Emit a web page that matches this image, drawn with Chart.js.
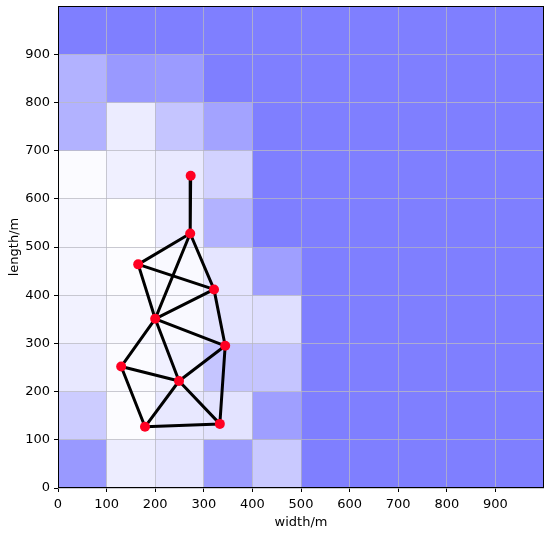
<!DOCTYPE html>
<html>
<head>
<meta charset="utf-8">
<script src="https://cdn.jsdelivr.net/npm/chart.js@4"></script>
<style>
  html, body { margin: 0; padding: 0; background: #fff; }
  #wrap { width: 550px; height: 533px; }
</style>
</head>
<body>
<div id="wrap"><canvas id="grid-chart" width="550" height="533"></canvas></div>
<script>
// cell size in metres, grid starts at 0
const cellSize = 100;
const tickValues = [0, 100, 200, 300, 400, 500, 600, 700, 800, 900];

// shade of each cell (0 = white, 1 = full blue), row 0 is y 0-100
const shadeRows = [
  [0.80, 0.14, 0.20, 0.78, 0.42, 1, 1, 1, 1, 1],
  [0.40, 0.02, 0.18, 0.22, 0.75, 1, 1, 1, 1, 1],
  [0.18, 0.03, 0.12, 0.45, 0.45, 1, 1, 1, 1, 1],
  [0.10, 0.05, 0.05, 0.22, 0.25, 1, 1, 1, 1, 1],
  [0.08, 0.02, 0.05, 0.20, 0.75, 1, 1, 1, 1, 1],
  [0.07, 0.00, 0.15, 0.60, 1, 1, 1, 1, 1, 1],
  [0.03, 0.12, 0.17, 0.35, 1, 1, 1, 1, 1, 1],
  [0.60, 0.15, 0.45, 0.72, 1, 1, 1, 1, 1, 1],
  [0.60, 0.80, 0.78, 1, 1, 1, 1, 1, 1, 1],
  [1, 1, 1, 1, 1, 1, 1, 1, 1, 1]
];

// network nodes
const nodeX = [273, 272, 165, 321, 200, 344, 130, 249, 179, 333];
const nodeY = [648, 528, 464, 412, 351, 295, 252, 222, 127, 133];

// links between nodes (indices)
const links = [
  [0, 1], [1, 2], [1, 4], [1, 3], [2, 3], [2, 4], [3, 4], [3, 5], [4, 5],
  [4, 6], [4, 7], [5, 7], [5, 9], [6, 7], [6, 8], [7, 8], [7, 9], [8, 9]
];

const shadeColor = (v) => {
  const r = Math.round(255 - v * (255 - 127));
  return `rgb(${r},${r},255)`;
};

const linkPoints = [];
links.forEach(([a, b]) => {
  linkPoints.push({ x: nodeX[a], y: nodeY[a] });
  linkPoints.push({ x: nodeX[b], y: nodeY[b] });
  linkPoints.push({ x: null, y: null });
});

const heatmapPlugin = {
  id: "heatmap",
  beforeDraw(chart) {
    const { ctx, scales } = chart;
    const xs = scales.x, ys = scales.y;
    ctx.save();
    shadeRows.forEach((row, j) => {
      row.forEach((v, i) => {
        const x0 = xs.getPixelForValue(i * cellSize);
        const x1 = xs.getPixelForValue((i + 1) * cellSize);
        const y0 = ys.getPixelForValue((j + 1) * cellSize);
        const y1 = ys.getPixelForValue(j * cellSize);
        ctx.fillStyle = shadeColor(v);
        ctx.fillRect(x0, y0, x1 - x0, y1 - y0);
      });
    });
    ctx.restore();
  },
  afterDraw(chart) {
    const { ctx, chartArea } = chart;
    ctx.save();
    ctx.strokeStyle = "#000";
    ctx.lineWidth = 1;
    ctx.strokeRect(chartArea.left + 0.5, chartArea.top + 0.5,
      chartArea.right - chartArea.left - 1, chartArea.bottom - chartArea.top - 1);
    ctx.restore();
  }
};

const gridOpts = {
  color: "rgba(180,180,190,0.7)",
  lineWidth: 1,
  tickLength: 4,
  tickColor: "#000",
  drawTicks: true,
};

const tickFont = { family: "DejaVu Sans", size: 13 };

new Chart(document.getElementById("grid-chart"), {
  type: "scatter",
  data: {
    datasets: [
      {
        data: nodeX.map((x, i) => ({ x, y: nodeY[i] })),
        pointRadius: 5,
        pointHoverRadius: 5,
        pointBackgroundColor: "#ff0022",
        pointBorderWidth: 0,
        showLine: false,
      },
      {
        data: linkPoints,
        showLine: true,
        spanGaps: false,
        borderColor: "#000",
        borderWidth: 3,
        pointRadius: 0,
        pointHoverRadius: 0,
      },
    ],
  },
  options: {
    responsive: false,
    animation: false,
    events: [],
    layout: { padding: { top: 6, right: 6, left: 0, bottom: 0 } },
    scales: {
      x: {
        type: "linear",
        min: 0,
        max: 1000,
        afterBuildTicks: (scale) => {
          scale.ticks = tickValues.map((v) => ({ value: v }));
        },
        ticks: {
          color: "#000",
          font: tickFont,
          maxRotation: 0,
          autoSkip: false,
          padding: 5,
        },
        grid: gridOpts,
        border: { display: false },
        title: {
          display: true,
          text: "width/m",
          color: "#000",
          font: tickFont,
          padding: { top: 0, bottom: 3 },
        },
        afterFit: (scale) => {
          scale.height = 45;
          scale.paddingLeft = 0;
          scale.paddingRight = 0;
        },
      },
      y: {
        type: "linear",
        min: 0,
        max: 1000,
        afterBuildTicks: (scale) => {
          scale.ticks = tickValues.map((v) => ({ value: v }));
        },
        ticks: {
          color: "#000",
          font: tickFont,
          autoSkip: false,
          padding: 4,
        },
        grid: gridOpts,
        border: { display: false },
        title: {
          display: true,
          text: "length/m",
          color: "#000",
          font: tickFont,
          padding: { top: 7, bottom: 2 },
        },
        afterFit: (scale) => {
          scale.width = 58;
          scale.paddingTop = 0;
          scale.paddingBottom = 0;
        },
      },
    },
    plugins: {
      legend: { display: false },
      tooltip: { enabled: false },
    },
  },
  plugins: [heatmapPlugin],
});
</script>
</body>
</html>
